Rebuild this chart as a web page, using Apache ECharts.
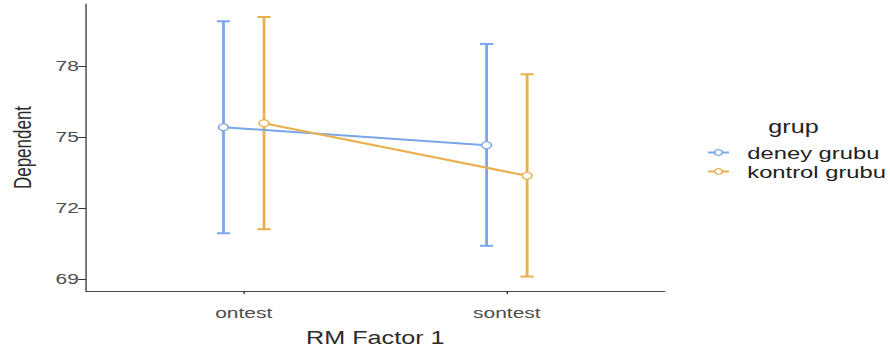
<!DOCTYPE html>
<html>
<head>
<meta charset="utf-8">
<script src="https://cdn.jsdelivr.net/npm/echarts@6/dist/echarts.min.js"></script>
<style>
html,body{margin:0;padding:0;background:#fff;overflow:hidden;}
#c{width:636px;height:347px;transform:scaleX(1.39937);transform-origin:0 0;}
</style>
</head>
<body>
<div id="c"></div>
<script>
const categories = ['ontest', 'sontest'];
const groups = ['deney grubu', 'kontrol grubu'];
const deneyMean = [75.41, 74.65];
const deneyLower = [70.93, 70.40];
const deneyUpper = [79.89, 78.93];
const kontrolMean = [75.58, 73.36];
const kontrolLower = [71.10, 69.10];
const kontrolUpper = [80.07, 77.65];
const yTicks = [69, 72, 75, 78];
const legendTitle = 'grup';
const xTitle = 'RM Factor 1';
const yTitle = 'Dependent';

const colors = ['#7aa6ea', '#e8b04e'];
const dodge = [-0.077, 0.077];
const font = 'Liberation Sans, Arial, sans-serif';

const groupData = [
  {mean: deneyMean, lower: deneyLower, upper: deneyUpper},
  {mean: kontrolMean, lower: kontrolLower, upper: kontrolUpper}
];

const series = [];
groupData.forEach((g, gi) => {
  series.push({
    name: groups[gi] + ' err',
    type: 'custom',
    z: 2,
    silent: true,
    encode: {x: 0, y: [1, 2]},
    data: categories.map((c, i) => [i + 1 + dodge[gi], g.lower[i], g.upper[i]]),
    renderItem: function (params, api) {
      const x = api.value(0);
      const lo = api.coord([x, api.value(1)]);
      const hi = api.coord([x, api.value(2)]);
      const half = api.size([0.025, 0])[0];
      const style = {stroke: colors[gi], lineWidth: 2, fill: null};
      return {
        type: 'group',
        children: [
          {type: 'line', shape: {x1: lo[0], y1: lo[1], x2: hi[0], y2: hi[1]}, style: style},
          {type: 'line', shape: {x1: hi[0] - half, y1: hi[1], x2: hi[0] + half, y2: hi[1]}, style: style},
          {type: 'line', shape: {x1: lo[0] - half, y1: lo[1], x2: lo[0] + half, y2: lo[1]}, style: style}
        ]
      };
    }
  });
});
groupData.forEach((g, gi) => {
  series.push({
    name: groups[gi],
    type: 'line',
    z: 5,
    data: categories.map((c, i) => [i + 1 + dodge[gi], g.mean[i]]),
    symbol: 'circle',
    symbolSize: 7,
    showSymbol: true,
    lineStyle: {color: colors[gi], width: 2},
    itemStyle: {color: '#ffffff', borderColor: colors[gi], borderWidth: 1.2},
    emphasis: {disabled: true},
    animation: false
  });
});

const chart = echarts.init(document.getElementById('c'), null, {renderer: 'svg'});
chart.setOption({
  animation: false,
  color: colors,
  title: {
    text: legendTitle, left: 549, top: 118, padding: 0,
    textStyle: {fontFamily: font, fontSize: 18, fontWeight: 'normal', color: '#222'}
  },
  legend: {
    data: groups.map((n, i) => ({name: n, itemStyle: {color: '#fff', borderColor: colors[i], borderWidth: 1.2}, lineStyle: {color: colors[i], width: 2}})),
    orient: 'vertical',
    left: 505, top: 144,
    itemWidth: 15, itemHeight: 7, itemGap: 2,
    padding: 0,
    selectedMode: false,
    textStyle: {fontFamily: font, fontSize: 17, color: '#222', padding: [0, 0, 0, 8]}
  },
  grid: {left: 61.4, right: 161, top: 4, bottom: 56, containLabel: false, outerBoundsMode: 'none'},
  xAxis: {
    type: 'value', min: 0.4, max: 2.6,
    name: xTitle, nameLocation: 'middle', nameGap: 38,
    nameTextStyle: {fontFamily: font, fontSize: 18, color: '#2b2b2b'},
    axisLine: {show: true, lineStyle: {color: '#444', width: 1}},
    axisTick: {show: true, customValues: [1, 2], length: 3, lineStyle: {color: '#333'}},
    axisLabel: {
      customValues: [1, 2], margin: 14,
      fontFamily: font, fontSize: 15, color: '#4d4d4d',
      formatter: v => categories[Math.round(v) - 1] || ''
    },
    splitLine: {show: false}
  },
  yAxis: {
    type: 'value', min: 68.49, max: 80.62,
    name: yTitle, nameLocation: 'middle', nameGap: 37, nameRotate: 90,
    nameTextStyle: {fontFamily: font, fontSize: 17, color: '#2b2b2b'},
    axisLine: {show: true, lineStyle: {color: '#444', width: 1}},
    axisTick: {show: true, customValues: yTicks, length: 5.5, lineStyle: {color: '#333'}},
    axisLabel: {customValues: yTicks, margin: 5, fontFamily: font, fontSize: 15, color: '#4d4d4d'},
    splitLine: {show: false}
  },
  series: series
});
</script>
</body>
</html>
